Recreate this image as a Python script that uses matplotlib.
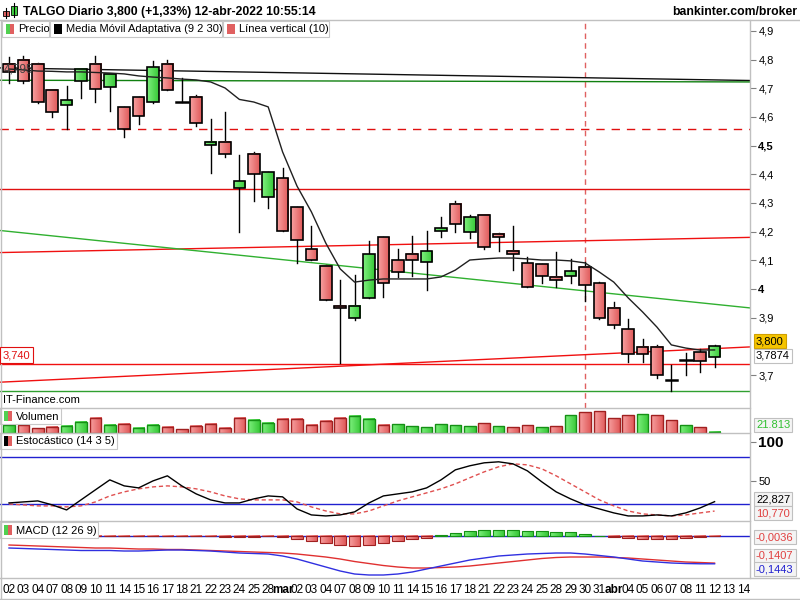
import numpy as np
import matplotlib
matplotlib.use('Agg')
import matplotlib.pyplot as plt
from matplotlib.patches import Rectangle
from matplotlib.lines import Line2D
from matplotlib.colors import to_rgb

plt.rcParams['font.family'] = ['Liberation Sans', 'DejaVu Sans']

# ---------------- data ----------------
date_labels = ['02', '03', '04', '07', '08', '09', '10', '11', '14', '15', '16', '17', '18', '21', '22', '23', '24', '25', '28',
               'mar', '02', '03', '04', '07', '08', '09', '10', '11', '14', '15', '16', '17', '18', '21', '22', '23', '24', '25',
               '28', '29', '30', '31',
               'abr', '04', '05', '06', '07', '08', '11', '12', '13', '14']

opens = [4.784, 4.798, 4.784, 4.693, 4.641, 4.724, 4.784, 4.703, 4.634, 4.668,
         4.651, 4.784, 4.651, 4.670, 4.501, 4.512, 4.351, 4.470, 4.320, 4.386,
         4.285, 4.138, 4.080, 3.940, 3.898, 3.968, 4.180, 4.100, 4.121, 4.093,
         4.203, 4.295, 4.200, 4.257, 4.191, 4.133, 4.090, 4.086, 4.043, 4.047,
         4.078, 4.020, 3.933, 3.859, 3.797, 3.797, 3.681, 3.751, 3.779, 3.762]
highs = [4.809, 4.814, 4.788, 4.693, 4.708, 4.766, 4.814, 4.749, 4.634, 4.668,
         4.795, 4.799, 4.735, 4.678, 4.592, 4.616, 4.467, 4.477, 4.407, 4.421,
         4.285, 4.220, 4.085, 4.031, 4.049, 4.167, 4.180, 4.138, 4.185, 4.202,
         4.252, 4.307, 4.259, 4.259, 4.196, 4.220, 4.111, 4.086, 4.130, 4.103,
         4.094, 4.024, 3.955, 3.894, 3.826, 3.804, 3.735, 3.778, 3.792, 3.804]
lows = [4.718, 4.717, 4.648, 4.601, 4.557, 4.667, 4.651, 4.622, 4.531, 4.576,
        4.648, 4.693, 4.651, 4.570, 4.406, 4.461, 4.200, 4.308, 4.281, 4.202,
        4.090, 4.100, 3.961, 3.741, 3.892, 3.968, 3.973, 4.043, 4.045, 3.996,
        4.182, 4.200, 4.179, 4.138, 4.134, 4.066, 4.008, 4.022, 4.006, 4.022,
        3.959, 3.894, 3.863, 3.746, 3.746, 3.688, 3.645, 3.700, 3.710, 3.727]
closes = [4.756, 4.724, 4.651, 4.616, 4.658, 4.766, 4.696, 4.749, 4.559, 4.602,
          4.773, 4.693, 4.651, 4.578, 4.512, 4.470, 4.375, 4.400, 4.407, 4.202,
          4.171, 4.100, 3.961, 3.933, 3.940, 4.121, 4.020, 4.059, 4.100, 4.131,
          4.212, 4.225, 4.250, 4.145, 4.180, 4.121, 4.008, 4.045, 4.031, 4.064,
          4.014, 3.898, 3.873, 3.772, 3.772, 3.699, 3.681, 3.751, 3.748, 3.800]

ama = [4.767, 4.764, 4.760, 4.759, 4.757, 4.757, 4.755, 4.753, 4.750, 4.743,
       4.739, 4.736, 4.732, 4.729, 4.722, 4.701, 4.661, 4.652, 4.635, 4.478,
       4.359, 4.269, 4.160, 4.070, 4.024, 4.031, 4.035, 4.035, 4.035, 4.035,
       4.042, 4.066, 4.101, 4.105, 4.108, 4.108, 4.105, 4.101, 4.101, 4.098,
       4.091, 4.059, 4.024, 3.969, 3.920, 3.867, 3.805, 3.794, 3.787, 3.7874]

volume_k = [133, 133, 80, 101, 117, 181, 245, 133, 149, 85,
            133, 101, 64, 117, 149, 85, 245, 213, 165, 229,
            229, 133, 197, 245, 277, 229, 133, 139, 112, 96,
            144, 128, 112, 160, 112, 96, 128, 96, 112, 288,
            336, 352, 240, 288, 304, 288, 208, 128, 96, 21.813]

stoch_k = [21.2, 22.5, 23.8, 18.7, 12.2, 25.1, 38.0, 50.8, 43.1, 40.5,
           49.5, 56.0, 43.1, 32.8, 25.1, 21.2, 21.2, 26.4, 30.2, 29.0,
           13.5, 5.8, 4.5, 5.8, 9.7, 21.2, 30.2, 32.8, 35.4, 40.5,
           50.8, 63.7, 68.9, 72.7, 74.0, 71.4, 62.4, 48.3, 35.4, 26.4,
           18.7, 13.5, 8.4, 4.5, 4.5, 5.8, 4.5, 8.4, 14.8, 22.827]
stoch_d = [19.9, 18.7, 17.4, 17.4, 16.1, 17.4, 22.5, 30.2, 35.4, 39.3,
           41.8, 43.1, 41.8, 39.3, 35.4, 30.2, 26.4, 25.1, 25.1, 25.1,
           22.5, 16.1, 10.9, 7.1, 7.1, 10.9, 17.4, 23.8, 29.0, 34.1,
           39.3, 45.7, 53.5, 61.1, 67.6, 71.4, 70.1, 65.0, 56.0, 45.7,
           35.4, 25.1, 17.4, 10.9, 7.1, 5.8, 4.5, 5.8, 8.4, 10.770]

macd_line = [-0.0638, -0.0663, -0.0689, -0.0714, -0.0740, -0.0765, -0.0765, -0.0765, -0.0791, -0.0791,
             -0.0765, -0.0740, -0.0740, -0.0765, -0.0791, -0.0842, -0.0893, -0.0918, -0.0944, -0.1046,
             -0.1199, -0.1403, -0.1607, -0.1811, -0.1964, -0.2015, -0.2015, -0.1964, -0.1862, -0.1709,
             -0.1556, -0.1403, -0.1250, -0.1148, -0.1046, -0.0995, -0.0944, -0.0918, -0.0893, -0.0893,
             -0.0944, -0.1020, -0.1097, -0.1199, -0.1301, -0.1352, -0.1403, -0.1429, -0.1443, -0.1443]
macd_signal = [-0.0485, -0.0510, -0.0536, -0.0561, -0.0587, -0.0612, -0.0638, -0.0638, -0.0663, -0.0689,
               -0.0689, -0.0714, -0.0714, -0.0740, -0.0765, -0.0791, -0.0816, -0.0842, -0.0867, -0.0893,
               -0.0944, -0.1020, -0.1097, -0.1199, -0.1327, -0.1429, -0.1531, -0.1607, -0.1658, -0.1658,
               -0.1633, -0.1607, -0.1556, -0.1480, -0.1403, -0.1327, -0.1250, -0.1173, -0.1122, -0.1097,
               -0.1097, -0.1097, -0.1122, -0.1148, -0.1199, -0.1250, -0.1301, -0.1352, -0.1378, -0.1407]
macd_hist = [0.004, 0.003, 0.002, 0.001, -0.002, -0.003, -0.003, -0.002, -0.003, -0.004,
             -0.003, -0.002, -0.003, -0.004, -0.005, -0.006, -0.006, -0.006, -0.005, -0.010,
             -0.020, -0.030, -0.040, -0.050, -0.055, -0.050, -0.040, -0.030, -0.020, -0.012,
             0.005, 0.015, 0.022, 0.027, 0.028, 0.027, 0.025, 0.022, 0.020, 0.018,
             0.010, 0.000, -0.008, -0.015, -0.020, -0.020, -0.018, -0.014, -0.009, -0.0036]

# trend / horizontal lines: (x_start, price_start, x_end, price_end, color, style)
line_objs = [(-0.625, 4.771, 51.46, 4.727, '#101010', '-'),
             (-0.625, 4.728, 51.46, 4.722, '#108010', '-'),
             (-0.625, 4.558, 51.46, 4.558, '#e01010', (0, (6, 5))),
             (-0.625, 4.348, 51.46, 4.348, '#e01010', '-'),
             (-0.625, 4.127, 51.46, 4.180, '#f01010', '-'),
             (-0.625, 4.204, 51.46, 3.934, '#30b030', '-'),
             (-0.625, 3.740, 51.46, 3.740, '#f01010', '-'),
             (-0.625, 3.675, 51.46, 3.798, '#f01010', '-'),
             (-0.625, 3.644, 51.46, 3.644, '#30a030', '-')]
vline_idx = 40

price_ticks = [3.7, 3.9, 4.0, 4.1, 4.2, 4.3, 4.4, 4.5, 4.6, 4.7, 4.8, 4.9]
price_tick_labels = ['3,7', '3,9', '4', '4,1', '4,2', '4,3', '4,4', '4,5', '4,6', '4,7', '4,8', '4,9']

# ---------------- layout helpers ----------------
W, H = 800, 600
fig = plt.figure(figsize=(8, 6), dpi=100)
fig.patch.set_facecolor('white')


def R(x0, y0, x1, y1):
    return [x0 / W, 1 - y1 / H, (x1 - x0) / W, (y1 - y0) / H]


def fx(x):
    return x / W


def fy(y):
    return 1 - y / H


def hline_px(y, x0, x1, color='#c0c0c0', lw=1):
    fig.add_artist(Line2D([fx(x0), fx(x1)], [fy(y), fy(y)], color=color, lw=lw))


def vline_px(x, y0, y1, color='#c0c0c0', lw=1):
    fig.add_artist(Line2D([fx(x), fx(x)], [fy(y0), fy(y1)], color=color, lw=lw))


def grad_rect(ax, x0, x1, y0, y1, cl, cr, edge, lw=1.0, z=3):
    a = np.array(to_rgb(cl))
    b = np.array(to_rgb(cr))
    t = np.linspace(0, 1, 24)[:, None]
    img = (a * (1 - t) + b * t)[None, :, :]
    ax.imshow(img, extent=(x0, x1, min(y0, y1), max(y0, y1)), aspect='auto',
              interpolation='bilinear', zorder=z)
    ax.add_patch(Rectangle((x0, min(y0, y1)), x1 - x0, abs(y1 - y0), fill=False,
                           edgecolor=edge, lw=lw, zorder=z + 0.1))


RED_L, RED_R = '#f7a0a0', '#e05a5a'
GRN_L, GRN_R = '#7ef07e', '#38c838'

XL = (-0.625, 51.46)
n = len(closes)
idx = np.arange(n)

ax_main = fig.add_axes(R(0, 20, 750, 408))
ax_vol = fig.add_axes(R(0, 408, 750, 433))
ax_sto = fig.add_axes(R(0, 433, 750, 521))
ax_macd = fig.add_axes(R(0, 521, 750, 578))
for ax in (ax_main, ax_vol, ax_sto, ax_macd):
    for s in ax.spines.values():
        s.set_visible(False)
    ax.set_facecolor('none')
    ax.tick_params(axis='x', length=0, labelbottom=False)

# ---------------- main price panel ----------------
ax = ax_main
for (xa, pa, xb, pb, col, ls) in line_objs:
    ax.plot([xa, xb], [pa, pb], color=col, lw=1, linestyle=ls, zorder=1.5)
ax.axvline(vline_idx, color='#e06060', lw=1, linestyle=(0, (4, 3)), zorder=1.2)
ax.text(-0.35, 4.764, '4,795', fontsize=8.5, color='#404040', ha='left', va='center', zorder=5)

bw = 0.8
for i in range(n):
    o, h, l, c = opens[i], highs[i], lows[i], closes[i]
    ax.plot([i, i], [l, h], color='black', lw=1, zorder=2)
    if abs(c - o) < 1e-9:
        ax.plot([i - bw / 2, i + bw / 2], [o, o], color='black', lw=1.8, zorder=3.5)
    elif c > o:
        grad_rect(ax, i - bw / 2, i + bw / 2, o, c, GRN_L, GRN_R, 'black', 1.2)
    else:
        grad_rect(ax, i - bw / 2, i + bw / 2, o, c, RED_L, RED_R, 'black', 1.2)
ax.plot(idx, ama, color='#202020', lw=1, zorder=4)

ax.set_xlim(*XL)
ax.set_ylim(3.585, 4.938)
ax.yaxis.tick_right()
ax.set_yticks(price_ticks)
ax.set_yticklabels(price_tick_labels)
ax.tick_params(axis='y', length=4, width=0.8, color='#808080', labelsize=8, pad=2)
for lbl in ax.get_yticklabels():
    if lbl.get_text() in ('4,5', '4'):
        lbl.set_fontweight('bold')

# ---------------- volume ----------------
ax = ax_vol
for i in range(n):
    up = i == 0 or closes[i] >= closes[i - 1]
    v = volume_k[i] * 1000
    if up:
        grad_rect(ax, i - bw / 2, i + bw / 2, 0, v, GRN_L, GRN_R, '#159015', 1.0)
    else:
        grad_rect(ax, i - bw / 2, i + bw / 2, 0, v, RED_L, RED_R, '#a02020', 1.0)
ax.set_xlim(*XL)
ax.set_ylim(0, 400000)
ax.set_yticks([])

# ---------------- stochastic ----------------
ax = ax_sto
ax.axhline(80, color='#2020d0', lw=1)
ax.axhline(20, color='#2020d0', lw=1)
ax.plot(idx, stoch_d, color='#e05050', lw=1, linestyle=(0, (3, 2)))
ax.plot(idx, stoch_k, color='black', lw=1)
ax.set_xlim(*XL)
ax.set_ylim(-2, 111)
ax.yaxis.tick_right()
ax.set_yticks([50, 100])
ax.set_yticklabels(['50', '100'])
ax.tick_params(axis='y', length=4, width=0.8, color='#808080', labelsize=8, pad=2)
ax.get_yticklabels()[1].set_fontweight('bold')
ax.get_yticklabels()[1].set_fontsize(11)

# ---------------- MACD ----------------
ax = ax_macd
ax.axhline(0, color='#2020d0', lw=1, zorder=1)
for i in range(n):
    v = macd_hist[i]
    if v >= 0:
        grad_rect(ax, i - bw / 2, i + bw / 2, 0, v, GRN_L, GRN_R, '#159015', 0.8)
    else:
        grad_rect(ax, i - bw / 2, i + bw / 2, 0, v, RED_L, RED_R, '#a02020', 0.8)
ax.plot(idx, macd_signal, color='#e03030', lw=1, zorder=5)
ax.plot(idx, macd_line, color='#3030e0', lw=1, zorder=5)
ax.set_xlim(*XL)
ax.set_ylim(-0.2168, 0.074)
ax.set_yticks([])
ax.set_xticks(np.arange(len(date_labels)))
ax.set_xticklabels(date_labels)
ax.tick_params(axis='x', length=0, labelbottom=True, labelsize=8.5, pad=4)
for lbl in ax.get_xticklabels():
    if lbl.get_text() in ('mar', 'abr'):
        lbl.set_fontweight('bold')

# ---------------- frame lines ----------------
hline_px(20, 0, 800)
hline_px(408, 0, 750)
hline_px(433, 0, 750)
hline_px(521, 0, 750)
hline_px(578, 0, 800)
hline_px(599, 0, 800)
vline_px(750, 20, 578)
vline_px(0.5, 20, 600)

# ---------------- header ----------------
fig.text(fx(23), fy(12), 'TALGO Diario 3,800 (+1,33%) 12-abr-2022 10:55:14', fontsize=8.8,
         fontweight='bold', ha='left', va='center')
fig.text(fx(797), fy(12), 'bankinter.com/broker', fontsize=8.8, fontweight='bold', ha='right', va='center')
# header icon
fig.add_artist(Line2D([fx(6), fx(6)], [fy(8), fy(18)], color='black', lw=0.8))
fig.add_artist(Rectangle((fx(3), fy(16)), 6 / W, 5 / H, facecolor='#e06060', edgecolor='black', lw=0.6))
fig.add_artist(Line2D([fx(14), fx(14)], [fy(3), fy(17)], color='black', lw=0.8))
fig.add_artist(Rectangle((fx(11), fy(15)), 6 / W, 9 / H, facecolor='#40d040', edgecolor='black', lw=0.6))


def legend_box(x0, x1, y0, y1, text, cols):
    fig.add_artist(Rectangle((fx(x0), fy(y1)), (x1 - x0) / W, (y1 - y0) / H, facecolor='white',
                             edgecolor='#c8c8c8', lw=0.8))
    ic_x = x0 + 4
    ic_y0, ic_y1 = y0 + 3, y1 - 3
    wcol = 8 / len(cols)
    for k, c in enumerate(cols):
        fig.add_artist(Rectangle((fx(ic_x + k * wcol), fy(ic_y1)), wcol / W, (ic_y1 - ic_y0) / H,
                                 facecolor=c, edgecolor='none'))
    fig.text(fx(ic_x + 12), fy((y0 + y1) / 2 + 0.5), text, fontsize=8, ha='left', va='center')


legend_box(2, 49, 21, 37, 'Precio', ['#50d050', '#e06060'])
legend_box(50, 222, 21, 37, 'Media Móvil Adaptativa (9 2 30)', ['#000000'])
legend_box(223, 329, 21, 37, 'Línea vertical (10)', ['#e06060'])
legend_box(0, 61, 408, 424, 'Volumen', ['#50d050', '#e06060'])
legend_box(0, 117, 433, 449, 'Estocástico (14 3 5)', ['#000000', '#e06060'])
legend_box(0, 98, 522, 538, 'MACD (12 26 9)', ['#50d050', '#e06060'])

fig.text(fx(3), fy(400), 'IT-Finance.com', fontsize=8, ha='left', va='center')

# left label 3,740
fig.text(fx(3), fy(355), '3,740', fontsize=8, color='#e01010', ha='left', va='center',
         bbox=dict(boxstyle='square,pad=0.25', facecolor='white', edgecolor='#e01010', lw=0.8))


def value_box(y, text, color, fc='#f4f4f4', ec='#c0c0c0'):
    fig.text(fx(756), fy(y), text, fontsize=8, color=color, ha='left', va='center',
             bbox=dict(boxstyle='square,pad=0.2', facecolor=fc, edgecolor=ec, lw=0.8))


value_box(341, '3,800', 'black', fc='#f5c400', ec='#d0a000')
value_box(356, '3,7874', 'black', fc='white')
value_box(425, '21.813', '#30c030')
value_box(499, '22,827', 'black')
value_box(513, '10,770', '#e04040')
value_box(537, '-0,0036', '#e04040')
value_box(556, '-0,1407', '#e04040')
value_box(569, '-0,1443', '#2020d0')

fig.savefig('out.png', dpi=100, facecolor='white')
